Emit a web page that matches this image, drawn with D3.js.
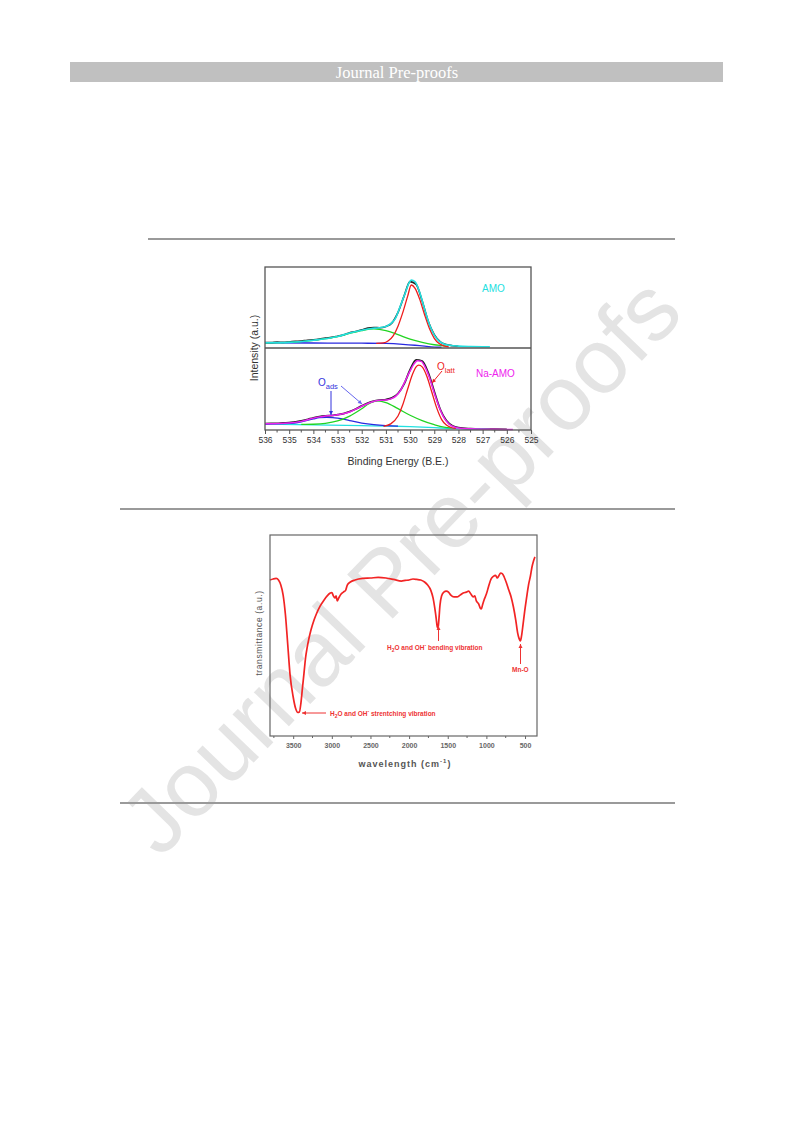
<!DOCTYPE html>
<html><head><meta charset="utf-8">
<script src="https://cdn.jsdelivr.net/npm/d3@7"></script>
<style>html,body{margin:0;padding:0;background:#fff}svg{display:block}</style>
</head><body>
<script>
// ---------- DATA ----------
const xpsTicks = [536,535,534,533,532,531,530,529,528,527,526,525];
// AMO panel (binding energy, intensity a.u. 0-100)
const amoBE_bg   = [536,534,532,531,530.3,529.8,529.4,529.0,528.7];
const amoI_bg    = [6.5,6.2,5.9,5.6,4.6,3.4,2.2,1.2,0.9];
const amoBE_latt = [531.4,531.1,530.9,530.7,530.5,530.3,530.1,529.95,529.8,529.6,529.4,529.2,529.0,528.8,528.6,528.4];
const amoI_latt  = [5.6,6.3,9,15,27,44,64,77.8,74,60,41,24,12,5.5,2.6,1.3];
const amoBE_ads  = [536,535,534,533,532.5,532,531.5,531,530.5,530,529.5,529,528.7,528.5];
const amoI_ads   = [6.5,7,9.5,14,18,21.5,23.5,21.5,16.5,11,7,4,3,2.4];
const amoBE_fit  = [536,535,534,533,532.5,532,531.6,531.3,531.0,530.8,530.6,530.4,530.2,530.05,529.95,529.8,529.6,529.4,529.2,529.0,528.8,528.6,528.3,528.0,527.5,527.0,526.7];
const amoI_fit   = [6.5,7,9.6,14.2,18.5,22,24,25,26.5,30,37,52,68,80,83.8,82,68.5,48,29,16,8.5,5,3,2.3,1.8,1.6,1.6];
const amoBE_raw  = [536,535.75,535.5,535.25,535,534.75,534.5,534.25,534,533.75,533.5,533.25,533,532.75,532.5,532.25,532,531.75,531.5,531.25,531,530.75,530.5,530.25,530,529.75,529.5,529.25,529,528.75,528.5,528.25,528];
const amoI_raw   = [6.8,6.6,7.2,7.0,7.5,8.2,8.6,9.6,10.1,11.0,12.3,13.1,14.6,16.2,18.9,20.3,22.4,24.6,25.3,25.0,26.6,31,44,64,82,78.5,58,33,16.5,7.5,4.2,2.8,2.2];
// Na-AMO panel
const naBE_bg    = [536,534,532,531,530,529,528.5,528,527.5,527,526.7];
const naI_bg     = [7.3,6.3,5.3,4.9,4.0,2.8,2.1,1.6,1.2,0.9,0.8];
const naBE_ads1  = [536,535,534.5,534,533.75,533.45,533.2,533,532.5,532,531.5,531,530.5];
const naI_ads1   = [7.3,8,10,13.5,15,15.5,15.2,14.5,11.5,8.5,6.5,5.3,4.7];
const naBE_ads2  = [534.5,534,533.5,533,532.5,532,531.7,531.35,531,530.5,530,529.5,529,528.6,528.3];
const naI_ads2   = [6.8,7,8,11,17,26,32,35.4,33.5,26,18,11.5,6.5,3.5,2.5];
const naBE_latt  = [531.1,530.8,530.5,530.3,530.1,529.9,529.75,529.64,529.5,529.3,529.1,528.9,528.7,528.5,528.3,528.1];
const naI_latt   = [4.5,7.5,17,31,50,68,77,79,77,65,46,27,13,6,3,2];
const naBE_fit   = [536,535,534.5,534,533.75,533.5,533,532.5,532,531.7,531.35,531,530.8,530.6,530.4,530.2,530.0,529.85,529.7,529.55,529.4,529.2,529.0,528.8,528.6,528.4,528.2,528.0,527.5,527,526.5,525.75];
const naI_fit    = [7.5,8.5,10.5,14.5,16,17,18.5,22,29,33,36,36.5,38,41,48,60,72,80,84.5,84,78,64,45,28,15,7.5,4,2.5,1.5,1,0.8,0.6];
const naBE_raw   = [536,535.75,535.5,535.25,535,534.75,534.5,534.25,534,533.75,533.5,533.25,533,532.75,532.5,532.25,532,531.75,531.5,531.25,531,530.75,530.5,530.25,530,529.75,529.5,529.25,529,528.75,528.5,528.25,528,527.5,527,526.5,526];
const naI_raw    = [7.6,7.9,8.0,8.6,8.9,9.9,11,12.8,14.9,16.4,17.2,17.6,18.8,20.1,22.4,25.6,29.4,32.8,35.2,36.4,37.1,39.2,44.5,56,73.5,85.5,84,70,47,25,11.5,5.2,2.8,1.6,1.1,0.9,0.7];

// FTIR
const ftirTicks = [3500,3000,2500,2000,1500,1000,500];
const ftirWN = [3800,3760,3720,3690,3660,3630,3600,3570,3540,3500,3470,3440,3420,3400,3380,3360,3340,3320,3300,3270,3230,3200,3150,3100,3060,3020,3000,2980,2960,2945,2930,2910,2880,2850,2820,2800,2760,2700,2600,2500,2400,2300,2200,2100,2050,2000,1950,1900,1850,1800,1760,1720,1690,1670,1650,1635,1625,1615,1600,1580,1550,1520,1490,1460,1420,1380,1340,1300,1260,1230,1200,1170,1150,1130,1100,1080,1065,1050,1030,1000,970,940,910,880,860,840,815,795,770,740,710,680,650,620,595,575,560,545,525,505,480,455,430,410,390,372];
const ftirT  = [77.6,78.1,78.4,77.6,75.1,70.1,60.2,45.3,30.3,19.4,13.9,11.7,11.9,16.4,23.9,31.3,38.8,43.8,47.8,52.7,57.7,60.7,64.7,67.7,69.7,71.1,71.4,69.7,68.7,69.7,67.2,68.7,70.6,71.6,72.6,75.1,76.6,77.6,78.4,78.6,78.9,78.6,77.9,77.1,77.4,77.6,78.1,77.9,77.6,76.6,75.1,72.6,68.7,64.2,58.7,54.2,53.7,57.7,65.2,69.7,71.6,72.1,71.6,70.1,69.2,69.2,70.1,71.1,71.6,72.1,70.6,69.2,69.7,67.2,65.7,63.7,63.2,65.2,67.7,70.6,74.6,78.1,79.4,79.9,78.6,79.6,81.1,80.8,79.1,76.1,72.6,69.2,64.2,57.7,51.2,48.3,47.3,49.8,55.7,61.9,68.7,75.1,79.6,84.1,87.1,89.1];

// ---------- DRAW ----------
const W = 793, H = 1121;
const svg = d3.select("body").append("svg").attr("width", W).attr("height", H)
  .style("font-family", "Arial, 'Liberation Sans', sans-serif");

// watermark (behind)
svg.append("text").attr("x", 400).attr("y", 565)
  .attr("transform", "rotate(-46,400,565)")
  .attr("text-anchor", "middle").attr("dominant-baseline", "central")
  .attr("font-size", 92).attr("fill", "#e4e4e4")
  .style("font-family", "'Liberation Sans', Arial, sans-serif")
  .text("Journal Pre-proofs");

// header bar
svg.append("rect").attr("x", 70).attr("y", 62).attr("width", 653).attr("height", 20).attr("fill", "#c0c0c0");
svg.append("text").attr("x", 397).attr("y", 78).attr("text-anchor", "middle")
  .attr("fill", "#fff").attr("font-size", 16.5).style("font-family", "'Liberation Serif', 'Times New Roman', serif")
  .text("Journal Pre-proofs");

// separator lines
[[148,675,239],[120,675,509],[120,675,803]].forEach(([x1,x2,y]) => {
  svg.append("line").attr("x1", x1).attr("x2", x2).attr("y1", y).attr("y2", y)
    .attr("stroke", "#9a9a9a").attr("stroke-width", 2);
});

function arrowHead(g, x1, y1, x2, y2, color, size) {
  const a = Math.atan2(y2 - y1, x2 - x1);
  const s = size || 4;
  const p = [[x2, y2],
    [x2 - s * Math.cos(a) + s * 0.5 * Math.sin(a), y2 - s * Math.sin(a) - s * 0.5 * Math.cos(a)],
    [x2 - s * Math.cos(a) - s * 0.5 * Math.sin(a), y2 - s * Math.sin(a) + s * 0.5 * Math.cos(a)]];
  g.append("line").attr("x1", x1).attr("y1", y1).attr("x2", x2).attr("y2", y2)
    .attr("stroke", color).attr("stroke-width", 1);
  g.append("path").attr("d", "M" + p.map(q => q.join(",")).join("L") + "Z").attr("fill", color);
}

// ---------- XPS ----------
const xL = 265, xR = 531, yT = 267, yM = 348, yB = 430;
const xS = d3.scaleLinear().domain([536, 525]).range([xL, xR]);
const yTop = d3.scaleLinear().domain([0, 100]).range([yM, yT]);
const yBot = d3.scaleLinear().domain([0, 100]).range([yB, yM]);
const gx = svg.append("g");

function curve(be, I, ys, color, w) {
  const pts = be.map((b, i) => [b, I[i]]);
  gx.append("path").datum(pts)
    .attr("d", d3.line().x(d => xS(d[0])).y(d => ys(d[1])).curve(d3.curveMonotoneX))
    .attr("fill", "none").attr("stroke", color).attr("stroke-width", w || 1.3);
}
// top panel
curve(amoBE_raw, amoI_raw, yTop, "#222", 1.6);
curve(amoBE_bg, amoI_bg, yTop, "#2a2ae0", 1.3);
curve(amoBE_ads, amoI_ads, yTop, "#22d422", 1.3);
curve(amoBE_latt, amoI_latt, yTop, "#ee1c1c", 1.3);
curve(amoBE_fit, amoI_fit, yTop, "#22e0e0", 1.6);
// bottom panel
curve(naBE_raw, naI_raw, yBot, "#222", 1.8);
curve(naBE_bg, naI_bg, yBot, "#22e0e0", 1.3);
curve(naBE_ads1, naI_ads1, yBot, "#2a2ae0", 1.3);
curve(naBE_ads2, naI_ads2, yBot, "#22d422", 1.3);
curve(naBE_latt, naI_latt, yBot, "#ee1c1c", 1.3);
curve(naBE_fit, naI_fit, yBot, "#ee22ee", 1.5);

// frame
gx.append("rect").attr("x", xL).attr("y", yT).attr("width", xR - xL).attr("height", yB - yT)
  .attr("fill", "none").attr("stroke", "#555").attr("stroke-width", 1.3);
gx.append("line").attr("x1", xL).attr("x2", xR).attr("y1", yM).attr("y2", yM).attr("stroke", "#555").attr("stroke-width", 1.3);

// x axis
const xAxis = d3.axisBottom(xS).tickValues(xpsTicks).tickSize(4).tickPadding(3).tickFormat(d3.format("d"));
const ax = gx.append("g").attr("transform", `translate(0,${yB})`).call(xAxis);
ax.select(".domain").remove();
ax.selectAll("line").attr("stroke", "#555");
ax.selectAll("text").attr("font-size", 8.5).attr("fill", "#333").style("font-family", "Arial, 'Liberation Sans', sans-serif");
const minorBE = d3.range(535.5, 525, -1);
gx.append("g").selectAll("line").data(minorBE).join("line")
  .attr("x1", d => xS(d)).attr("x2", d => xS(d)).attr("y1", yB).attr("y2", yB + 2.5).attr("stroke", "#555");

gx.append("text").attr("x", 398).attr("y", 465).attr("text-anchor", "middle")
  .attr("font-size", 10.5).attr("fill", "#333").text("Binding Energy (B.E.)");
gx.append("text").attr("transform", "translate(258,348) rotate(-90)").attr("text-anchor", "middle")
  .attr("font-size", 10.5).attr("fill", "#333").text("Intensity (a.u.)");

// labels
gx.append("text").attr("x", 482).attr("y", 292).attr("font-size", 10).attr("fill", "#22e0e0").text("AMO");
gx.append("text").attr("x", 476).attr("y", 377).attr("font-size", 10).attr("fill", "#ee22ee").text("Na-AMO");
const tO = gx.append("text").attr("x", 318).attr("y", 386).attr("font-size", 10).attr("fill", "#3333dd");
tO.append("tspan").text("O");
tO.append("tspan").attr("font-size", 7.5).attr("dy", 3).text("ads");
const tL = gx.append("text").attr("x", 437).attr("y", 370).attr("font-size", 10).attr("fill", "#ee1c1c");
tL.append("tspan").text("O");
tL.append("tspan").attr("font-size", 7.5).attr("dy", 3).text("latt");
arrowHead(gx, 331, 391, 331, 415, "#3333dd", 4);
arrowHead(gx, 341, 386, 362, 404, "#6666ee", 4);
arrowHead(gx, 442, 371, 432, 383, "#ee1c1c", 4);

// ---------- FTIR ----------
const fL = 270, fR = 537, fT = 535, fB = 736;
const fx = d3.scaleLinear().domain([3800, 345]).range([fL, fR]);
const fy = d3.scaleLinear().domain([0, 100]).range([fB, fT]);
const gf = svg.append("g");
gf.append("path").datum(ftirWN.map((w, i) => [w, ftirT[i]]))
  .attr("d", d3.line().x(d => fx(d[0])).y(d => fy(d[1])).curve(d3.curveMonotoneX))
  .attr("fill", "none").attr("stroke", "#f22424").attr("stroke-width", 1.7);
gf.append("rect").attr("x", fL).attr("y", fT).attr("width", fR - fL).attr("height", fB - fT)
  .attr("fill", "none").attr("stroke", "#666").attr("stroke-width", 1.2);
const fAxis = d3.axisBottom(fx).tickValues(ftirTicks).tickSize(3).tickPadding(4).tickFormat(d3.format("d"));
const fa = gf.append("g").attr("transform", `translate(0,${fB})`).call(fAxis);
fa.select(".domain").remove();
fa.selectAll("line").attr("stroke", "#666");
fa.selectAll("text").attr("font-size", 7).attr("font-weight", "bold").attr("fill", "#666")
  .style("font-family", "Arial, 'Liberation Sans', sans-serif");
gf.append("g").selectAll("line").data(d3.range(3750, 345, -500)).join("line")
  .attr("x1", d => fx(d)).attr("x2", d => fx(d)).attr("y1", fB).attr("y2", fB + 2).attr("stroke", "#666");

const xl = gf.append("text").attr("x", 405).attr("y", 767).attr("text-anchor", "middle")
  .attr("font-size", 9).attr("font-weight", "bold").attr("fill", "#555").attr("letter-spacing", 1);
xl.append("tspan").text("wavelength (cm");
xl.append("tspan").attr("font-size", 6).attr("dy", -4).text("-1");
xl.append("tspan").attr("dy", 4).text(")");
gf.append("text").attr("transform", "translate(262,633) rotate(-90)").attr("text-anchor", "middle")
  .attr("font-size", 8.5).attr("fill", "#555").attr("letter-spacing", 0.6).text("transmittance (a.u.)");

const red = "#ee3333";
function ann(x, y, parts) {
  const t = gf.append("text").attr("x", x).attr("y", y).attr("font-size", 6.5).attr("font-weight", "bold").attr("fill", red);
  parts.forEach(p => {
    const s = t.append("tspan").text(p[0]);
    if (p[1] === "sub") s.attr("font-size", 5).attr("dy", 2);
    if (p[1] === "back") s.attr("dy", -2);
    if (p[1] === "sup") s.attr("font-size", 5).attr("dy", -3);
    if (p[1] === "down") s.attr("dy", 3);
  });
}
ann(330, 716, [["H"], ["2", "sub"], ["O and OH", "back"], ["-", "sup"], [" strentching vibration", "down"]]);
arrowHead(gf, 326, 713, 302, 713, red, 4);
ann(387, 650, [["H"], ["2", "sub"], ["O and OH", "back"], ["-", "sup"], [" bending vibration", "down"]]);
arrowHead(gf, 438.5, 641, 438.5, 626, red, 4);
ann(512, 672, [["Mn-O"]]);
arrowHead(gf, 520.5, 664, 520.5, 644, red, 4);
</script>
</body></html>
